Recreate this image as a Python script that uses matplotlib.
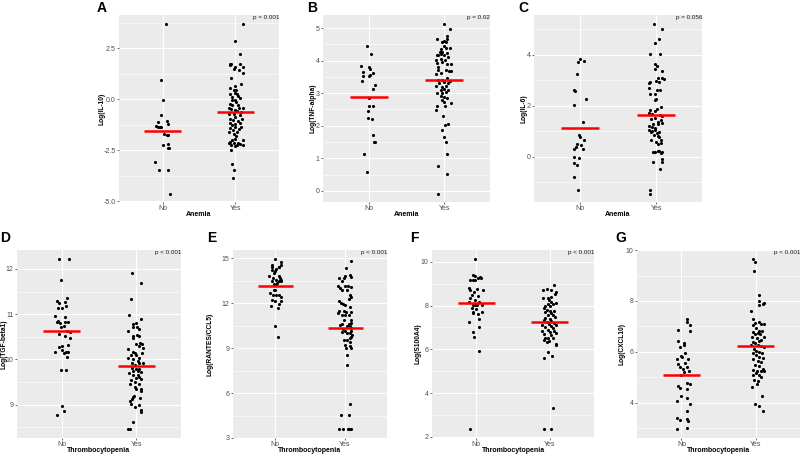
import numpy as np
import matplotlib
matplotlib.use("Agg")
import matplotlib.pyplot as plt

plt.rcParams['font.family'] = 'Liberation Sans'

categories = ["No", "Yes"]

# ---- A: IL-10 vs anemia
a_no = [3.71, 0.93, -0.02, -0.78, -1.13, -1.08, -1.32, -1.36, -1.36, -1.34, -1.19,
        -1.72, -1.73, -1.73, -2.25, -2.21, -2.39, -2.40, -3.06, -3.48, -3.48, -4.62]
a_no_dx = [0.05, -0.02, 0.0, -0.02, -0.06, 0.06, -0.09, -0.07, -0.04, -0.02, 0.08,
           0.02, 0.06, 0.08, 0.0, 0.08, 0.09, 0.08, -0.10, -0.05, 0.08, 0.10]
a_yes = [3.68, 2.83, 2.22, 1.75, 1.75, 1.67, 1.75, 1.60, 1.58, 1.49,
         1.45, 1.29, 1.06, 0.74, 0.57, 0.64, 0.44, 0.47, 0.28, 0.31,
         0.25, 0.13, -0.05, -0.13, -0.26, -0.29, -0.41, -0.41, -0.41, -0.49,
         -0.51, -0.57, -0.70, -0.74, -0.78, -0.87, -0.95, -1.03, -1.06, -1.16,
         -1.19, -1.16, -1.39, -1.36, -1.44, -1.49, -1.63, -1.63, -1.68, -1.81,
         -2.14, -2.09, -2.14, -2.14, -2.01, -2.25, -2.25, -2.17, -2.25, -1.93,
         -2.47, -3.19, -3.48, -3.84,
         -0.02, 0.07, -0.21, -0.62, -1.27, -1.36, -1.98, -2.30, -0.96, 0.15]
a_yes_dx = [0.11, -0.01, 0.06, -0.08, -0.06, -0.07, 0.06, 0.11, 0.0, -0.02,
            0.05, 0.10, -0.06, 0.08, -0.08, -0.01, -0.02, 0.01, -0.07, 0.0,
            0.02, -0.05, -0.01, 0.01, -0.04, 0.03, -0.09, 0.05, 0.10, -0.06,
            0.0, 0.02, -0.09, -0.02, 0.07, 0.0, -0.07, -0.03, 0.03, -0.08,
            -0.01, 0.07, -0.07, 0.0, 0.05, -0.03, -0.09, 0.02, -0.02, 0.01,
            -0.09, -0.07, -0.02, 0.03, 0.11, -0.06, 0.02, 0.06, 0.11, 0.0,
            -0.06, -0.04, -0.02, -0.03,
            -0.05, 0.06, -0.08, 0.08, -0.05, 0.08, -0.04, 0.0, 0.09, 0.03]
a_med = [-1.58, -0.64]

# ---- B: TNF-alpha vs anemia
b_no = [4.45, 4.19, 3.84, 3.79, 3.75, 3.66, 3.61, 3.53, 3.54, 3.56, 3.38, 3.26,
        3.13, 2.84, 2.60, 2.62, 2.44, 2.24, 2.21, 1.71, 1.50, 1.49, 1.13, 0.57]
b_no_dx = [-0.02, 0.03, -0.10, 0.01, 0.02, -0.07, 0.06, -0.07, 0.0, 0.02, -0.09, 0.09,
           0.06, 0.0, 0.01, 0.06, -0.01, -0.01, 0.05, 0.06, 0.07, 0.08, -0.06, -0.02]
b_yes = [5.14, 4.96, 4.76, 4.66, 4.67, 4.58, 4.60, 4.56, 4.45, 4.39,
         4.37, 4.40, 4.25, 4.26, 4.17, 4.18, 4.19, 4.17, 4.23, 4.11,
         4.02, 4.04, 4.02, 3.92, 3.95, 3.90, 3.89, 3.81, 3.71, 3.71,
         3.68, 3.58, 3.61, 3.69, 3.40, 3.40, 3.46, 3.38, 3.32, 3.35,
         3.30, 3.22, 3.20, 3.22, 3.10, 3.12, 3.10, 3.02, 3.00, 3.04,
         2.91, 2.87, 2.79, 2.84, 2.72, 2.70, 2.62, 2.62, 2.48, 2.30,
         2.02, 2.06, 1.86, 1.67, 1.50, 1.13, 0.77, 0.53, -0.08]
b_yes_dx = [0.0, 0.07, 0.03, 0.04, -0.10, -0.03, -0.01, 0.02, -0.01, 0.07,
            -0.05, 0.02, -0.06, -0.03, -0.10, -0.08, -0.04, -0.01, 0.03, 0.05,
            -0.11, -0.05, 0.01, -0.10, -0.03, 0.03, 0.09, -0.09, -0.08, 0.02,
            0.06, -0.11, -0.04, 0.08, -0.09, -0.03, 0.03, 0.07, -0.07, -0.01,
            0.05, -0.11, -0.03, 0.02, -0.05, 0.0, 0.05, -0.10, -0.03, 0.02,
            -0.05, -0.01, -0.03, 0.03, 0.0, 0.08, 0.01, -0.10, -0.11, -0.02,
            0.01, 0.05, -0.03, -0.01, 0.02, 0.04, -0.09, 0.04, -0.09]
b_med = [2.89, 3.42]

# ---- C: IL-6 vs anemia
c_no = [3.83, 3.75, 3.70, 3.25, 2.63, 2.58, 2.25, 2.01, 1.35, 0.84,
        0.77, 0.64, 0.48, 0.38, 0.31, 0.47, 0.30, -0.01, -0.04, -0.24,
        -0.35, -0.80, -1.32]
c_no_dx = [0.0, 0.05, -0.03, -0.04, -0.08, -0.06, 0.08, -0.07, 0.04, -0.01,
           0.0, 0.05, -0.04, -0.05, -0.07, 0.02, 0.04, -0.08, -0.01, -0.08,
           -0.04, -0.08, -0.02]
c_yes = [5.22, 4.99, 4.63, 4.44, 4.04, 4.03, 3.62, 3.57, 3.45, 3.37,
         3.07, 3.10, 3.05, 2.93, 2.89, 2.97, 2.93, 2.68, 2.60, 2.63,
         2.44, 2.47, 2.27, 2.21, 1.93, 1.86, 1.79, 1.82, 1.66, 1.69,
         1.62, 1.59, 1.53, 1.49, 1.45, 1.37, 1.32, 1.29, 1.27, 1.19,
         1.14, 1.11, 1.03, 1.01, 1.06, 0.95, 0.93, 0.98, 0.85, 0.80,
         0.75, 0.64, 0.64, 0.56, 0.48, 0.54, 0.18, 0.17, 0.20, 0.22,
         0.18, 0.12, -0.10, -0.20, -0.22, -0.48, -1.32, -1.45]
c_yes_dx = [-0.03, 0.07, 0.04, -0.01, -0.08, 0.05, -0.01, 0.01, -0.02, 0.08,
            0.02, 0.07, 0.10, -0.08, -0.09, 0.0, 0.04, -0.09, 0.01, 0.05,
            -0.01, -0.08, 0.0, -0.01, 0.06, 0.01, -0.02, -0.08, -0.06, -0.09,
            0.05, 0.08, -0.02, -0.07, 0.06, 0.02, 0.08, -0.04, 0.03, -0.10,
            -0.06, -0.02, -0.09, -0.05, -0.01, -0.07, 0.01, 0.04, -0.03, 0.02,
            0.04, -0.07, 0.06, 0.0, 0.02, 0.06, -0.04, -0.01, 0.02, 0.04,
            0.08, 0.06, 0.08, 0.07, -0.04, 0.05, -0.08, -0.08]
c_med = [1.12, 1.62]

# ---- D: TGF-beta1 vs thrombocytopenia
d_no = [12.23, 12.22, 11.75, 11.35, 11.29, 11.27, 11.24, 11.17, 11.14, 11.13,
        10.95, 10.94, 10.85, 10.83, 10.81, 10.82, 10.82, 10.73, 10.71, 10.63,
        10.57, 10.60, 10.51, 10.47, 10.32, 10.28, 10.29, 10.20, 10.17, 10.17,
        10.17, 10.15, 10.05, 9.76, 9.76, 8.96, 8.86, 8.76]
d_no_dx = [-0.03, 0.10, -0.01, 0.07, -0.07, 0.04, -0.03, 0.06, -0.05, 0.01,
           -0.09, 0.04, -0.05, -0.07, -0.02, 0.05, 0.08, 0.03, -0.01, 0.07,
           -0.03, 0.11, 0.05, 0.11, 0.08, -0.03, 0.01, 0.0, -0.09, 0.06,
           0.09, 0.03, 0.07, -0.01, 0.06, 0.0, 0.03, -0.07]
d_yes = [11.91, 11.69, 11.33, 10.99, 10.89, 10.79, 10.80, 10.72, 10.67, 10.71,
         10.62, 10.52, 10.53, 10.51, 10.48, 10.35, 10.37, 10.35, 10.29, 10.26,
         10.23, 10.17, 10.15, 10.14, 10.09, 10.09, 10.03, 10.02, 10.00, 9.97,
         9.93, 9.93, 9.92, 9.88, 9.80, 9.79, 9.78, 9.75, 9.75, 9.73,
         9.70, 9.66, 9.66, 9.62, 9.58, 9.54, 9.51, 9.56, 9.46, 9.45,
         9.40, 9.35, 9.34, 9.29, 9.20, 9.16, 9.13, 9.15, 9.07, 9.01,
         9.00, 8.95, 8.87, 8.84, 8.61, 8.47, 8.45]
d_yes_dx = [-0.06, 0.07, -0.07, -0.10, 0.07, -0.05, -0.01, 0.01, 0.04, -0.04,
            -0.11, -0.04, 0.01, 0.04, -0.05, 0.0, 0.05, 0.08, 0.04, 0.09,
            -0.11, -0.05, -0.02, 0.08, -0.07, 0.0, 0.04, -0.11, -0.04, 0.02,
            -0.06, 0.04, 0.09, -0.02, -0.06, -0.01, 0.04, -0.04, 0.02, 0.07,
            -0.10, -0.04, 0.02, 0.04, 0.0, -0.07, -0.02, 0.07, -0.09, 0.04,
            -0.02, 0.07, -0.01, 0.06, -0.03, -0.04, -0.06, 0.05, -0.09, -0.07,
            0.04, -0.02, 0.06, 0.07, -0.04, -0.09, -0.11]
d_med = [10.63, 9.86]

# ---- E: RANTES/CCL5 vs thrombocytopenia
e_no = [14.98, 14.73, 14.58, 14.58, 14.42, 14.42, 14.42, 14.31, 14.24, 14.15,
        14.00, 13.79, 13.68, 13.79, 13.68, 13.57, 13.53, 13.46, 13.46, 13.35,
        13.30, 13.50, 13.24, 12.90, 12.86, 12.68, 12.57, 12.39, 12.57, 12.52,
        12.21, 12.17, 12.12, 11.94, 11.81, 11.67, 10.47, 9.73]
e_no_dx = [0.0, 0.08, -0.04, 0.08, 0.05, -0.04, 0.06, 0.02, -0.05, 0.0,
           -0.01, -0.08, -0.03, 0.05, 0.07, 0.08, 0.02, -0.04, 0.06, 0.03,
           -0.01, 0.09, 0.01, -0.02, 0.0, -0.07, 0.05, 0.08, -0.03, 0.01,
           -0.05, 0.09, 0.0, 0.05, -0.06, 0.04, 0.0, 0.04]
e_yes = [14.84, 14.35, 13.91, 13.84, 13.68, 13.68, 13.73, 13.46, 13.17, 13.13,
         12.99, 13.15, 13.06, 12.90, 12.90, 12.52, 12.39, 12.12, 11.99, 11.94,
         11.90, 12.25, 11.72, 11.50, 11.45, 11.34, 11.41, 11.41, 11.23, 11.23,
         11.23, 10.89, 10.85, 10.63, 10.60, 10.51, 10.67, 10.56, 10.45, 10.33,
         10.29, 10.16, 10.16, 10.07, 10.02, 10.00, 9.89, 9.75, 9.67, 9.55,
         9.53, 9.44, 9.22, 9.11, 9.04, 9.00, 8.55, 7.88, 5.27, 4.53,
         4.53, 3.57, 3.57, 3.57, 3.57, 3.57]
e_yes_dx = [0.09, 0.02, 0.07, 0.0, -0.09, -0.02, 0.08, -0.05, -0.10, 0.0,
            -0.07, 0.04, 0.09, -0.04, 0.03, 0.07, 0.09, -0.09, -0.06, -0.03,
            0.0, 0.05, 0.07, -0.09, -0.02, -0.10, 0.02, 0.09, -0.05, 0.0,
            0.05, 0.08, -0.01, -0.05, 0.05, 0.03, 0.09, -0.07, 0.07, 0.09,
            -0.03, 0.0, 0.09, -0.05, 0.03, 0.07, 0.10, 0.08, 0.07, -0.02,
            0.03, 0.07, 0.0, 0.07, 0.02, 0.09, 0.03, 0.03, 0.07, -0.06,
            0.05, -0.08, -0.03, 0.04, 0.06, 0.09]
e_med = [13.12, 10.31]

# ---- F: S100A4 vs thrombocytopenia
f_no = [10.15, 9.39, 9.34, 9.30, 9.24, 9.19, 9.17, 9.16, 9.27, 8.81,
        8.73, 8.78, 8.70, 8.61, 8.50, 8.35, 8.43, 8.27, 8.17, 8.15,
        8.04, 8.01, 8.04, 8.01, 7.89, 7.86, 7.71, 7.71, 7.61, 7.64,
        7.40, 7.25, 7.00, 6.79, 6.57, 5.93, 2.34]
f_no_dx = [-0.02, -0.04, -0.01, 0.05, 0.02, -0.08, -0.05, -0.02, 0.07, -0.10,
           -0.08, 0.01, 0.09, -0.03, -0.06, -0.08, 0.02, -0.01, -0.10, 0.04,
           -0.04, -0.02, 0.01, 0.08, -0.06, 0.0, -0.05, 0.08, 0.03, -0.04,
           0.04, -0.10, 0.04, -0.05, -0.03, 0.04, -0.08]
f_yes = [8.93, 8.78, 8.72, 8.69, 8.62, 8.53, 8.35, 8.38, 8.35, 8.24,
         8.15, 8.12, 8.07, 8.07, 8.00, 7.97, 7.89, 7.81, 7.77, 7.74,
         7.71, 7.65, 7.55, 7.58, 7.46, 7.43, 7.40, 7.35, 7.28, 7.25,
         7.20, 7.16, 7.13, 7.08, 7.13, 7.00, 6.97, 6.88, 6.85, 6.82,
         6.79, 6.74, 6.70, 6.67, 6.54, 6.51, 6.51, 6.44, 6.39, 6.33,
         6.21, 6.24, 5.86, 5.60, 5.70, 3.33, 2.34, 2.34]
f_yes_dx = [0.05, -0.04, 0.02, -0.09, 0.08, 0.07, -0.09, 0.01, -0.03, -0.01,
            0.02, 0.08, -0.03, 0.04, -0.06, 0.0, -0.08, -0.04, 0.06, 0.0,
            -0.07, 0.02, 0.04, -0.03, 0.07, -0.06, 0.0, -0.08, 0.02, -0.04,
            0.06, -0.01, -0.11, 0.01, 0.08, -0.07, 0.04, -0.03, -0.10, 0.06,
            0.0, 0.08, -0.08, 0.02, -0.06, -0.02, 0.04, -0.08, -0.01, -0.04,
            0.08, 0.09, -0.02, -0.08, 0.03, 0.04, -0.08, 0.02]
f_med = [8.10, 7.25]

# ---- G: CXCL10 vs thrombocytopenia
g_no = [7.27, 7.16, 7.04, 6.83, 6.86, 6.44, 6.33, 6.20, 6.28, 5.95,
        5.82, 5.73, 5.78, 5.73, 5.54, 5.51, 5.38, 5.41, 5.33, 5.26,
        5.20, 5.07, 4.75, 4.72, 4.64, 4.56, 4.54, 4.27, 4.06, 4.17,
        3.93, 3.68, 3.40, 3.32, 3.34, 3.27, 2.94, 2.98]
g_no_dx = [0.07, 0.07, 0.11, 0.12, -0.04, -0.05, 0.04, -0.02, 0.03, 0.05,
           -0.01, -0.06, 0.01, 0.09, 0.05, -0.04, -0.02, 0.08, 0.02, 0.10,
           0.04, -0.01, 0.08, 0.12, -0.04, -0.02, 0.07, -0.01, -0.06, 0.08,
           0.11, 0.08, -0.06, -0.02, 0.08, 0.09, -0.06, 0.08]
g_yes = [9.67, 9.55, 9.18, 8.25, 7.99, 7.92, 7.86, 7.89, 7.59, 7.30,
         7.14, 7.18, 7.11, 7.11, 7.07, 6.94, 6.83, 6.81, 6.78, 6.70,
         6.74, 6.68, 6.60, 6.60, 6.54, 6.48, 6.39, 6.41, 6.35, 6.28,
         6.28, 6.21, 6.17, 6.12, 6.04, 5.99, 5.95, 5.96, 5.88, 5.78,
         5.70, 5.75, 5.65, 5.59, 5.49, 5.42, 5.33, 5.30, 5.25, 5.26,
         5.25, 5.16, 5.09, 5.07, 4.99, 4.89, 4.85, 4.62, 4.72, 4.27,
         3.94, 3.87, 3.67]
g_yes_dx = [-0.04, -0.01, -0.02, 0.04, 0.05, 0.12, 0.05, 0.10, -0.06, -0.04,
            -0.01, 0.04, 0.08, 0.11, -0.04, 0.01, 0.04, 0.09, -0.04, -0.01,
            0.03, 0.06, 0.11, -0.05, 0.02, 0.08, -0.03, 0.05, -0.01, 0.03,
            -0.06, 0.07, 0.11, -0.02, 0.01, 0.05, -0.04, 0.09, 0.0, 0.04,
            -0.03, 0.10, 0.03, 0.07, -0.01, 0.04, 0.10, -0.04, 0.02, 0.07,
            0.12, 0.0, -0.04, 0.04, 0.08, -0.02, 0.03, -0.05, 0.02, 0.09,
            -0.01, 0.05, 0.10]
g_med = [5.09, 6.24]

W, H = 800, 455
fig = plt.figure(figsize=(8, 4.55), dpi=100)


def panel(box, letter, lx, ly, ylx, xly, no_y, no_dx, yes_y, yes_dx, med,
          ylabel, xlabel, ptext, yticks, fmt):
    # box = left, top, right, bottom in pixels; ylx / xly = label centres in pixels
    l, t, r, b = box
    ax = fig.add_axes([l / W, 1 - b / H, (r - l) / W, (b - t) / H])
    ax.set_facecolor('#EBEBEB')
    for i, (ys, dxs) in enumerate([(no_y, no_dx), (yes_y, yes_dx)]):
        xs = i + 1 + np.array(dxs)
        ax.scatter(xs, ys, s=5, color='black', linewidths=0, zorder=3)
        ax.plot([i + 0.75, i + 1.25], [med[i], med[i]], color='red', lw=1.8,
                solid_capstyle='butt', zorder=4)

    allv = np.array(no_y + yes_y)
    lo, hi = allv.min(), allv.max()
    pad = 0.05 * (hi - lo)
    ax.set_ylim(lo - pad, hi + pad)
    ax.set_xlim(0.4, 2.6)
    ax.set_xticks([1, 2])
    ax.set_xticklabels(categories)
    ax.set_yticks(yticks)
    ax.set_yticklabels([fmt.format(v) for v in yticks])
    step = yticks[1] - yticks[0]
    minors = np.arange(yticks[0] - step / 2, hi + pad, step)
    ax.set_yticks([m for m in minors if lo - pad < m < hi + pad], minor=True)

    ax.grid(True, which='major', color='white', lw=0.8)
    ax.grid(True, which='minor', axis='y', color='white', lw=0.4)
    ax.set_axisbelow(True)
    for s in ax.spines.values():
        s.set_visible(False)
    ax.tick_params(which='major', length=1.5, width=0.5, color='#333333',
                   labelsize=5, labelcolor='#4D4D4D', pad=1)
    ax.tick_params(which='minor', length=0)
    ax.set_ylabel(ylabel, fontsize=4.8, fontweight='bold', va='center')
    ax.set_xlabel(xlabel, fontsize=5, fontweight='bold', va='center')
    ax.yaxis.set_label_coords((ylx - l) / (r - l), 0.5)
    ax.xaxis.set_label_coords(0.5, (b - xly) / (b - t))
    ax.text(1, 1, ptext, transform=ax.transAxes, ha='right', va='top',
            fontsize=4.5, color='#1A1A1A')
    fig.text(lx / W, 1 - ly / H, letter, fontsize=10, fontweight='bold',
             ha='left', va='baseline')
    return ax


panel((119, 15, 279, 202), "A", 97, 12, 102, 214, a_no, a_no_dx, a_yes, a_yes_dx, a_med,
      "Log(IL-10)", "Anemia", "p = 0.001", [-5, -2.5, 0, 2.5], "{:.1f}")
panel((323, 15, 490, 202), "B", 307, 12, 313, 214, b_no, b_no_dx, b_yes, b_yes_dx, b_med,
      "Log(TNF-alpha)", "Anemia", "p = 0.02", [0, 1, 2, 3, 4, 5], "{:.0f}")
panel((534, 15, 702, 202), "C", 518, 12, 524, 214, c_no, c_no_dx, c_yes, c_yes_dx, c_med,
      "Log(IL-6)", "Anemia", "p = 0.056", [0, 2, 4], "{:.0f}")
panel((17, 250, 181, 438), "D", 0, 242, 3.5, 450, d_no, d_no_dx, d_yes, d_yes_dx, d_med,
      "Log(TGF-beta1)", "Thrombocytopenia", "p < 0.001", [9, 10, 11, 12], "{:.0f}")
panel((233, 250, 387, 438), "E", 207, 242, 210, 450, e_no, e_no_dx, e_yes, e_yes_dx, e_med,
      "Log(RANTES/CCL5)", "Thrombocytopenia", "p < 0.001", [3, 6, 9, 12, 15], "{:.0f}")
panel((432, 250, 594, 438), "F", 410, 242, 418, 450, f_no, f_no_dx, f_yes, f_yes_dx, f_med,
      "Log(S100A4)", "Thrombocytopenia", "p < 0.001", [2, 4, 6, 8, 10], "{:.0f}")
panel((637, 250, 800, 438), "G", 615, 242, 622, 450, g_no, g_no_dx, g_yes, g_yes_dx, g_med,
      "Log(CXCL10)", "Thrombocytopenia", "p < 0.001", [4, 6, 8, 10], "{:.0f}")

fig.savefig("out.png", dpi=100)
